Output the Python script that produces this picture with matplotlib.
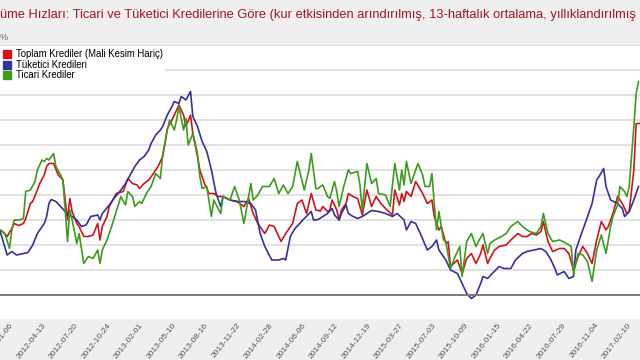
import numpy as np
import matplotlib
matplotlib.use("Agg")
import matplotlib.pyplot as plt
from matplotlib.lines import Line2D

plt.rcParams["font.family"] = ["Liberation Sans", "DejaVu Sans"]

# only the visible part of the (cropped) title
TITLE = ("üme Hızları: Ticari ve Tüketici Kredilerine Göre (kur etkisinden arındırılmış, "
         "13-haftalık ortalama, yıllıklandırılmış")

# x axis: weekly index, week 0 = 2012-01-06, a label every 14 weeks
tick_weeks = list(range(0, 267, 14))
tick_labels = ["2012-01-06", "2012-04-13", "2012-07-20", "2012-10-24", "2013-02-01",
               "2013-05-10", "2013-08-16", "2013-11-22", "2014-02-28", "2014-06-06",
               "2014-09-12", "2014-12-19", "2015-03-27", "2015-07-03", "2015-10-09",
               "2016-01-15", "2016-04-22", "2016-07-29", "2016-11-04", "2017-02-10"]

# Toplam Krediler (Mali Kesim Hariç), %
toplam_weeks = [-4, -3, -1, 1, 2, 4, 6, 7, 9, 10, 12, 13, 15, 16, 17, 19, 21, 23, 24, 25,
                26, 27, 29, 30, 32, 34, 36, 38, 39, 40, 42, 43, 46, 49, 51, 53, 55, 56, 58, 60,
                62, 64, 66, 67, 68, 70, 71, 73, 75, 76, 78, 79, 81, 82, 84, 86, 88, 90, 92, 95,
                98, 101, 103, 105, 107, 110, 112, 114, 117, 119, 122, 124, 126, 128, 130, 132, 134, 135, 137, 138,
                139, 141, 142, 143, 145, 146, 148, 150, 152, 154, 156, 158, 160, 162, 165, 166, 168, 169, 170, 171,
                173, 175, 178, 180, 182, 183, 185, 186, 188, 189, 190, 193, 195, 197, 199, 201, 203, 204, 206, 207,
                209, 211, 214, 216, 219, 221, 223, 225, 227, 229, 230, 232, 234, 237, 239, 241, 243, 245, 247, 249,
                251, 253, 255, 257, 258, 260, 262, 264, 266, 267, 269, 270, 272]
toplam = [13.0, 12.7, 11.7, 13.3, 14.3, 13.9, 14.3, 15.3, 18.3, 18.7, 21.0, 22.3, 24.0, 25.7, 26.3, 26.3, 24.0, 23.0, 19.0, 15.0,
          19.3, 16.7, 14.3, 13.7, 11.7, 11.7, 12.0, 14.3, 11.0, 13.7, 15.7, 17.7, 20.3, 20.7, 23.3, 22.3, 22.0, 21.3, 22.3, 23.0,
          24.3, 25.7, 27.7, 30.3, 33.3, 35.0, 36.0, 38.0, 36.0, 33.7, 36.0, 32.3, 27.7, 25.0, 22.3, 20.3, 20.3, 19.7, 19.7, 19.0,
          18.7, 17.7, 19.3, 16.3, 14.3, 12.3, 14.0, 13.7, 10.7, 12.3, 14.3, 18.3, 19.0, 16.3, 20.3, 17.0, 16.8, 17.7, 16.7, 17.0,
          19.0, 17.0, 15.0, 17.0, 18.3, 20.3, 19.7, 19.3, 16.0, 21.0, 17.7, 19.7, 18.3, 17.3, 16.0, 21.0, 18.0, 20.3, 18.7, 20.7,
          19.7, 22.7, 20.3, 18.3, 19.0, 15.7, 13.0, 13.7, 10.3, 10.7, 5.7, 7.0, 4.3, 7.3, 8.3, 6.3, 8.3, 10.0, 6.3, 7.3,
          9.0, 9.7, 10.0, 11.0, 12.3, 11.7, 11.7, 12.3, 12.0, 12.7, 14.7, 10.7, 8.7, 9.3, 9.3, 8.3, 5.0, 7.7, 9.7, 8.3,
          6.3, 11.0, 14.7, 13.0, 13.7, 16.3, 19.7, 18.3, 16.3, 16.7, 25.0, 34.3, 34.3]

# Tüketici Kredileri, %
tuketici_weeks = [-4, -1, 1, 3, 6, 8, 10, 12, 15, 16, 17, 18, 20, 22, 24, 25, 27, 29, 31, 33,
                  35, 38, 39, 40, 43, 45, 48, 50, 52, 54, 56, 58, 60, 61, 63, 65, 66, 68, 70, 71,
                  73, 74, 76, 78, 79, 81, 83, 85, 87, 89, 91, 92, 95, 98, 101, 104, 106, 108, 110, 113,
                  116, 118, 119, 121, 123, 125, 127, 130, 131, 133, 137, 139, 140, 142, 143, 145, 146, 148, 150, 152,
                  156, 159, 162, 165, 167, 170, 171, 173, 175, 177, 180, 182, 184, 185, 188, 190, 193, 195, 197, 199,
                  201, 203, 204, 206, 208, 211, 213, 216, 218, 221, 223, 226, 229, 231, 233, 235, 236, 239, 241, 243,
                  244, 246, 248, 251, 253, 254, 256, 257, 259, 262, 264, 265, 267, 269, 271]
tuketici = [12.7, 8.0, 8.7, 8.0, 8.3, 8.5, 10.0, 12.3, 14.3, 15.7, 18.3, 19.1, 18.7, 17.7, 16.7, 16.0, 15.7, 15.0, 13.7, 14.0,
            15.7, 16.0, 15.0, 16.3, 18.0, 19.3, 21.0, 22.3, 24.0, 25.7, 27.0, 27.7, 29.0, 30.3, 32.0, 33.0, 33.7, 36.0, 37.7, 38.7,
            38.3, 39.7, 39.0, 40.7, 35.7, 33.7, 30.7, 28.7, 25.0, 20.3, 17.7, 19.7, 19.0, 18.7, 18.7, 18.3, 17.0, 12.3, 9.7, 7.0,
            7.0, 7.3, 7.0, 11.7, 13.3, 14.3, 15.3, 16.7, 15.0, 15.1, 16.3, 17.3, 16.0, 15.0, 16.3, 18.0, 16.3, 15.7, 15.3, 15.7,
            16.9, 16.7, 16.3, 15.7, 16.3, 15.0, 13.0, 14.7, 14.3, 12.3, 9.0, 9.7, 11.0, 9.0, 7.0, 5.0, 4.3, 2.3, 0.3, -0.7,
            0.0, 2.3, 3.7, 3.3, 4.3, 5.7, 5.3, 5.3, 7.0, 8.3, 8.7, 9.0, 9.3, 8.7, 7.3, 5.3, 4.0, 4.7, 3.3, 3.7,
            9.0, 11.7, 14.3, 18.3, 23.0, 23.7, 25.3, 21.7, 19.0, 18.3, 17.3, 15.7, 16.7, 19.0, 21.7]

# Ticari Krediler, %
ticari_weeks = [-4, -2, 0, 1, 2, 4, 6, 7, 9, 11, 12, 14, 15, 16, 17, 19, 20, 22, 23, 24,
                25, 26, 27, 29, 30, 32, 34, 36, 38, 39, 40, 42, 44, 46, 48, 50, 51, 53, 54, 56,
                57, 59, 61, 63, 65, 66, 68, 69, 71, 72, 73, 75, 76, 77, 79, 81, 82, 83, 85, 87,
                88, 91, 92, 95, 97, 99, 101, 104, 105, 107, 109, 112, 114, 116, 118, 120, 122, 124, 127, 129,
                130, 132, 133, 134, 135, 137, 138, 140, 141, 142, 144, 145, 146, 147, 150, 151, 152, 154, 156, 158,
                159, 162, 164, 166, 168, 169, 170, 171, 173, 175, 176, 178, 179, 181, 182, 183, 184, 185, 187, 188,
                190, 192, 194, 195, 197, 199, 201, 202, 204, 206, 207, 209, 212, 214, 216, 219, 221, 224, 227, 229,
                230, 232, 234, 237, 240, 242, 243, 245, 247, 249, 251, 253, 255, 257, 259, 260, 262, 263, 265, 266,
                267, 269, 270, 271]
ticari = [13.0, 12.3, 9.3, 13.0, 15.0, 15.0, 15.3, 20.7, 21.0, 22.7, 25.0, 27.0, 26.7, 27.3, 27.0, 28.3, 25.7, 24.0, 23.0, 17.0,
          10.7, 17.0, 15.0, 10.3, 12.3, 6.3, 7.7, 7.3, 9.0, 6.3, 9.0, 11.0, 13.7, 16.7, 19.7, 18.0, 20.7, 19.7, 17.7, 18.7,
          18.3, 20.3, 21.7, 24.3, 23.3, 28.0, 33.0, 35.0, 33.0, 35.0, 37.7, 33.0, 35.3, 30.0, 32.3, 28.3, 23.7, 21.3, 21.7, 15.7,
          19.0, 16.3, 19.7, 19.0, 21.7, 19.0, 14.3, 22.3, 19.0, 20.0, 21.7, 21.7, 23.3, 20.3, 22.0, 20.3, 21.7, 26.7, 21.0, 25.0,
          28.3, 21.3, 21.3, 21.7, 22.0, 19.7, 19.3, 22.7, 20.7, 17.7, 21.7, 23.3, 25.0, 24.3, 24.7, 22.0, 17.0, 26.3, 22.3, 23.3,
          20.3, 20.0, 17.7, 26.3, 21.0, 25.0, 22.0, 26.7, 22.3, 25.0, 26.3, 24.0, 21.7, 21.7, 24.3, 18.3, 13.0, 16.7, 11.0, 10.7,
          5.3, 7.7, 9.7, 3.7, 10.7, 12.3, 9.7, 10.7, 12.3, 8.3, 10.3, 11.0, 11.7, 12.3, 13.7, 14.7, 13.7, 12.7, 12.3, 13.7,
          16.3, 12.3, 10.7, 11.0, 10.3, 9.7, 4.3, 8.3, 8.0, 6.7, 2.7, 9.0, 12.0, 8.3, 13.7, 15.7, 18.0, 21.7, 20.7, 19.7,
          21.7, 33.7, 40.3, 42.7]

series = [
    ("Toplam Krediler (Mali Kesim Hariç)", toplam_weeks, toplam, "#d0141c"),
    ("Tüketici Kredileri", tuketici_weeks, tuketici, "#33339a"),
    ("Ticari Krediler", ticari_weeks, ticari, "#3e9b1e"),
]

fig = plt.figure(figsize=(6.4, 3.6), dpi=100, facecolor="#efefef")
ax = fig.add_axes([0, 41 / 360, 1, 274 / 360], facecolor="white")

for name, weeks, vals, color in series:
    ax.plot(weeks, vals, color=color, linewidth=1.2, label=name)

ax.set_xlim(-4.09, 271.65)
ax.set_ylim(-4.8, 50.0)

ax.set_yticks(np.arange(5, 51, 5))
ax.yaxis.grid(True, color="#d9d9d9", linewidth=1.1)
ax.set_axisbelow(True)
ax.axhline(0, color="#7a7a7a", linewidth=1.4)
ax.tick_params(axis="y", left=False, labelleft=False)

ax.set_xticks(tick_weeks)
ax.set_xticklabels(tick_labels, rotation=52, ha="right", rotation_mode="anchor")
ax.tick_params(axis="x", length=0, pad=2, labelsize=6, labelcolor="#555555")
for s in ax.spines.values():
    s.set_visible(False)

handles = [Line2D([], [], marker="s", linestyle="none", markersize=5.5, color=c)
           for _, _, _, c in series]
ax.legend(handles, [s[0] for s in series], loc="upper left",
          bbox_to_anchor=(0.0, 1 - 47 / 360), bbox_transform=fig.transFigure,
          fontsize=6.9, frameon=True, facecolor="white", edgecolor="none",
          fancybox=False, framealpha=1, borderpad=0.25, borderaxespad=0,
          handlelength=0.9, handletextpad=0.5, labelspacing=0.05)

fig.text(0.0, 1 - 15 / 360, TITLE, color="#a0161b", fontsize=9.3, ha="left", va="center")
fig.text(0.0, 1 - 37 / 360, "%", color="#666666", fontsize=6.5, ha="left", va="center")

fig.savefig("out.png", dpi=100, facecolor=fig.get_facecolor())
